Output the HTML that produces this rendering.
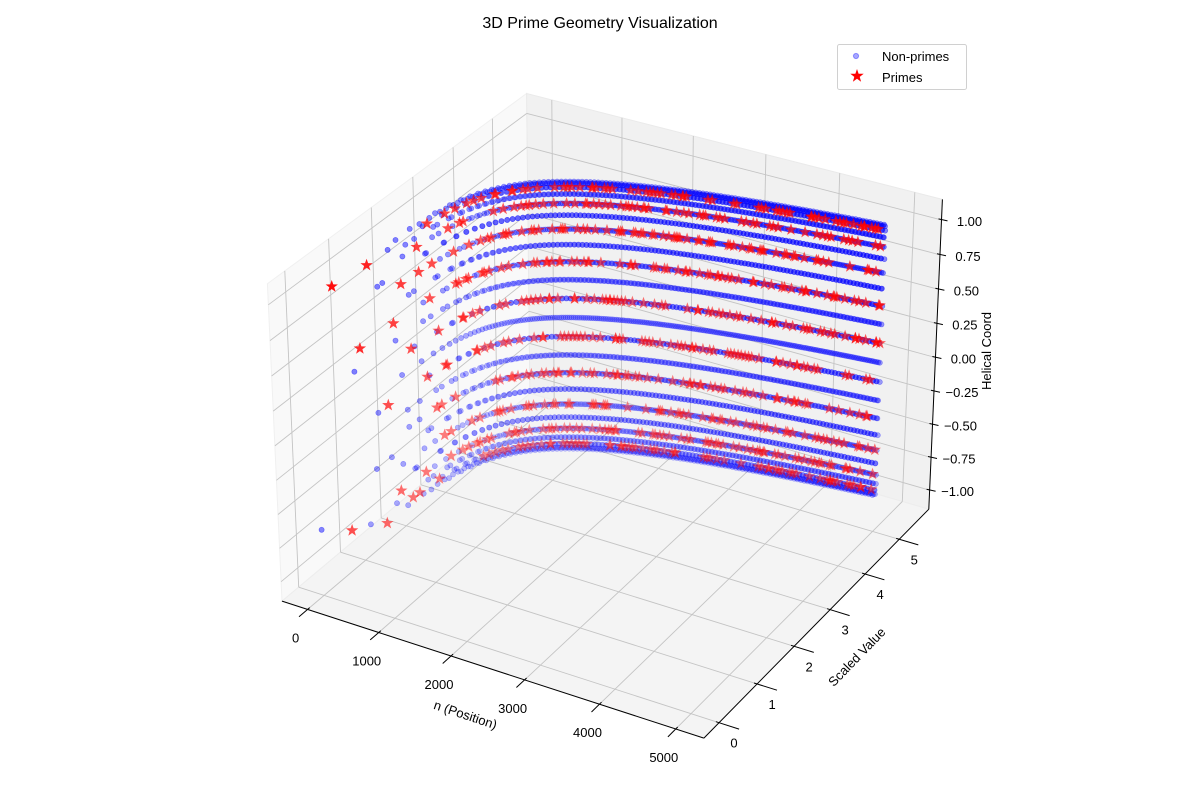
<!DOCTYPE html>
<html>
<head>
<meta charset="utf-8">
<style>
html,body{margin:0;padding:0;background:#fff;}
svg{display:block;font-family:"Liberation Sans","DejaVu Sans",sans-serif;}
</style>
</head>
<body>
<svg id="chart" width="1200" height="800" viewBox="0 0 1200 800">
  <rect x="0" y="0" width="1200" height="800" fill="#ffffff"/>
  <text x="600" y="28" text-anchor="middle" font-size="16" fill="#000">3D Prime Geometry Visualization</text>
  <g id="panes"></g>
  <g id="grid"></g>
  <g id="axes"></g>
  <g id="ticklabels" font-size="13" fill="#000"></g>
  <text x="0" y="0" font-size="13" text-anchor="middle" transform="translate(464,719) rotate(18.5)">n (Position)</text>
  <text x="0" y="0" font-size="13" text-anchor="middle" transform="translate(860,660) rotate(-46)">Scaled Value</text>
  <text x="0" y="0" font-size="13" text-anchor="middle" transform="translate(991,351) rotate(-90)">Helical Coord</text>
  <g id="nonprimes"></g>
  <g id="primes"></g>
  <g>
    <rect x="837.5" y="44.5" width="129" height="45" rx="2" fill="#fff" fill-opacity="0.85" stroke="#d0d0d0"/>
    <circle cx="856" cy="56" r="2.6" fill="#0000ff" fill-opacity="0.35" stroke="#0000ff" stroke-opacity="0.35"/>
    <text x="882" y="61" font-size="13">Non-primes</text>
    <path id="legstar" fill="#ff0000"/>
    <text x="882" y="82" font-size="13">Primes</text>
  </g>
</svg>
<script>
// ---- data definition ----
const nRange = [1, 4850];                 // positions n
const helixStep = [27, 44];               // z = sin(2*pi*n*27/44)
const scaledValueMax = [5.4];             // y scaled log(n) to this max
const xTicks = [0, 1000, 2000, 3000, 4000, 5000];
const xTickLabels = ["0", "1000", "2000", "3000", "4000", "5000"];
const yTicks = [0, 1, 2, 3, 4, 5];
const yTickLabels = ["0", "1", "2", "3", "4", "5"];
const zTicks = [-1, -0.75, -0.5, -0.25, 0, 0.25, 0.5, 0.75, 1];
const zTickLabels = ["\u22121.00", "\u22120.75", "\u22120.50", "\u22120.25", "0.00", "0.25", "0.50", "0.75", "1.00"];

// series computed from the mathematical definition
const nValues = [];
for (let n = nRange[0]; n <= nRange[1]; n++) nValues.push(n);
const isPrime = new Array(nRange[1] + 1).fill(true);
isPrime[0] = false; isPrime[1] = false;
for (let i = 2; i * i <= nRange[1]; i++) if (isPrime[i]) for (let j = i * i; j <= nRange[1]; j += i) isPrime[j] = false;
const yValues = nValues.map(n => Math.log(n) / Math.log(nRange[1]) * scaledValueMax[0]);
const zValues = nValues.map(n => Math.sin(2 * Math.PI * n * helixStep[0] / helixStep[1]));

// ---- projection (matplotlib-like, elev 30, azim -60) ----
const SVGNS = "http://www.w3.org/2000/svg";
const X0 = -364, X1 = 5364, Y0 = -0.39, Y1 = 5.89, Z0 = -1.146, Z1 = 1.146;
const AS = [1.143, 1.143, 0.857];
const W = [0.4330, -0.75, 0.5], U = [0.8660, 0.5, 0], V = [-0.25, 0.4330, 0.8660];
const CEN = [AS[0] / 2, AS[1] / 2, AS[2] / 2];
const EYE = [CEN[0] + 10 * W[0], CEN[1] + 10 * W[1], CEN[2] + 10 * W[2]];
function raw(x, y, z) {
  const b = [(x - X0) / (X1 - X0) * AS[0], (y - Y0) / (Y1 - Y0) * AS[1], (z - Z0) / (Z1 - Z0) * AS[2]];
  const d = [b[0] - EYE[0], b[1] - EYE[1], b[2] - EYE[2]];
  const depth = -(d[0] * W[0] + d[1] * W[1] + d[2] * W[2]);
  return [(d[0] * U[0] + d[1] * U[1] + d[2] * U[2]) / depth, (d[0] * V[0] + d[1] * V[1] + d[2] * V[2]) / depth, depth];
}
const obs = [
  [X0, Y0, Z0, 283, 600], [X1, Y0, Z0, 703, 740], [X1, Y1, Z0, 932, 508],
  [X0, Y0, Z1, 267, 283], [X0, Y1, Z1, 526, 95], [X1, Y1, Z1, 940, 199]
];
function linfit(a, b) {
  const n = a.length; let sa = 0, sb = 0, saa = 0, sab = 0;
  for (let i = 0; i < n; i++) { sa += a[i]; sb += b[i]; saa += a[i] * a[i]; sab += a[i] * b[i]; }
  const k = (n * sab - sa * sb) / (n * saa - sa * sa);
  return [k, (sb - k * sa) / n];
}
const rp = obs.map(o => raw(o[0], o[1], o[2]));
const fx = linfit(rp.map(r => r[0]), obs.map(o => o[3]));
const fy = linfit(rp.map(r => r[1]), obs.map(o => o[4]));
function P(x, y, z) { const r = raw(x, y, z); return [fx[0] * r[0] + fx[1], fy[0] * r[1] + fy[1], r[2]]; }

function el(tag, attrs, parent) {
  const e = document.createElementNS(SVGNS, tag);
  for (const k in attrs) e.setAttribute(k, attrs[k]);
  parent.appendChild(e);
  return e;
}
function poly(pts) { return pts.map(p => p[0].toFixed(1) + "," + p[1].toFixed(1)).join(" "); }

// panes
const panes = document.getElementById("panes");
const leftWall = el("polygon", { points: poly([P(X0, Y0, Z0), P(X0, Y1, Z0), P(X0, Y1, Z1), P(X0, Y0, Z1)]), fill: "#f9f9f9", stroke: "#f0f0f0" }, panes);


const backWall = el("polygon", { points: poly([P(X0, Y1, Z0), P(X1, Y1, Z0), P(X1, Y1, Z1), P(X0, Y1, Z1)]), fill: "#f1f1f1", stroke: "#eaeaea" }, panes);


const floorPane = el("polygon", { points: poly([P(X0, Y0, Z0), P(X1, Y0, Z0), P(X1, Y1, Z0), P(X0, Y1, Z0)]), fill: "#f4f4f4", stroke: "#ededed" }, panes);



// grid
const grid = document.getElementById("grid");
function gl(a, b, name) {
  const l = el("line", { x1: a[0].toFixed(1), y1: a[1].toFixed(1), x2: b[0].toFixed(1), y2: b[1].toFixed(1), stroke: "#c4c4c4", "stroke-width": "0.9" }, grid);
  
  
}
xTicks.forEach(x => { gl(P(x, Y0, Z0), P(x, Y1, Z0), "x-gridline-floor"); gl(P(x, Y1, Z0), P(x, Y1, Z1), "x-gridline-back"); });
yTicks.forEach(y => { gl(P(X0, y, Z0), P(X1, y, Z0), "y-gridline-floor"); gl(P(X0, y, Z0), P(X0, y, Z1), "y-gridline-left"); });
zTicks.forEach(z => { gl(P(X0, Y0, z), P(X0, Y1, z), "z-gridline-left"); gl(P(X0, Y1, z), P(X1, Y1, z), "z-gridline-back"); });

// axis lines & ticks
const axes = document.getElementById("axes");
function al(a, b, name) {
  const l = el("line", { x1: a[0].toFixed(1), y1: a[1].toFixed(1), x2: b[0].toFixed(1), y2: b[1].toFixed(1), stroke: "#000", "stroke-width": "1" }, axes);
  
  
}
al(P(X0, Y0, Z0), P(X1, Y0, Z0), "x-axis-line");
al(P(X1, Y0, Z0), P(X1, Y1, Z0), "y-axis-line");
al(P(X1, Y1, Z0), P(X1, Y1, Z1), "z-axis-line");
const tl = document.getElementById("ticklabels");
function lab(pt, dx, dy, txt, name) {
  const t = el("text", { x: (pt[0] + dx).toFixed(1), y: (pt[1] + dy).toFixed(1), "text-anchor": "middle" }, tl);
  t.textContent = txt;
  
  
}
xTicks.forEach((x, i) => {
  al(P(x, Y0 + 0.05, Z0), P(x, Y0 - 0.2, Z0), "x-tick");
  lab(P(x, Y0, Z0), -12, 33, xTickLabels[i], "x-tick-label");
});
yTicks.forEach((y, i) => {
  al(P(X1 - 40, y, Z0), P(X1 + 260, y, Z0), "y-tick");
  lab(P(X1, y, Z0), 15, 25, yTickLabels[i], "y-tick-label");
});
zTicks.forEach((z, i) => {
  const p = P(X1, Y1, z);
  al([p[0] - 3, p[1] - 1], [p[0] + 6, p[1] + 1], "z-tick");
  lab(p, 28, 6, zTickLabels[i], "z-tick-label");
});

// scatter
function starPath(cx, cy, R) {
  const r = R * 0.4; let d = "";
  for (let k = 0; k < 10; k++) {
    const ang = -Math.PI / 2 + k * Math.PI / 5, rr = k % 2 ? r : R;
    d += (k ? "L" : "M") + (cx + rr * Math.cos(ang)).toFixed(1) + "," + (cy + rr * Math.sin(ang)).toFixed(1);
  }
  return d + "Z";
}
document.getElementById("legstar").setAttribute("d", starPath(857, 76, 7));

const blue = [], red = [];
nValues.forEach((n, i) => {
  const p = P(n, yValues[i], zValues[i]);
  (isPrime[n] ? red : blue).push(p);
});
function shadeRange(arr) { let mn = Infinity, mx = -Infinity; arr.forEach(p => { mn = Math.min(mn, p[2]); mx = Math.max(mx, p[2]); }); return [mn, mx]; }
const gB = document.getElementById("nonprimes");
const rb = shadeRange(blue);
blue.sort((a, b) => b[2] - a[2]).forEach(p => {
  const f = 1 - 0.6 * (p[2] - rb[0]) / (rb[1] - rb[0]);
  const c = el("circle", { cx: p[0].toFixed(1), cy: p[1].toFixed(1), r: "2.6", fill: "#0000ff", stroke: "#0000ff", "stroke-width": "0.6", "fill-opacity": (0.5 * f).toFixed(3), "stroke-opacity": (0.5 * f).toFixed(3) }, gB);
  
  
});
const gR = document.getElementById("primes");
const rr = shadeRange(red);
red.sort((a, b) => b[2] - a[2]).forEach(p => {
  const f = 1 - 0.6 * (p[2] - rr[0]) / (rr[1] - rr[0]);
  const s = el("path", { d: starPath(p[0], p[1], 6.5), fill: "#ff0000", "fill-opacity": (0.95 * f).toFixed(3) }, gR);
  
  
});
</script>
</body>
</html>
